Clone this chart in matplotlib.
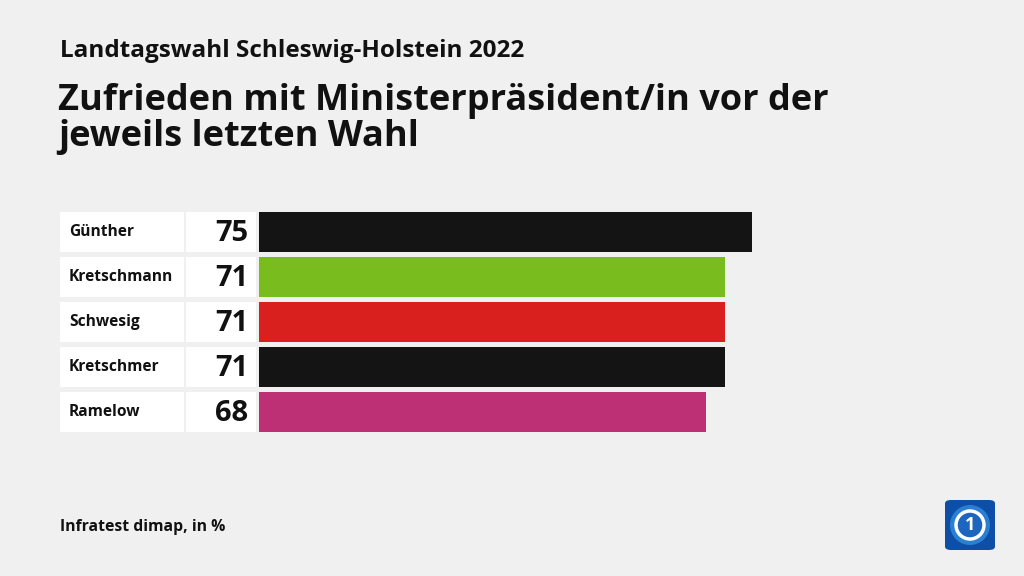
import matplotlib
matplotlib.use("Agg")
import matplotlib.pyplot as plt
from matplotlib.patches import Rectangle, FancyBboxPatch, Ellipse
import matplotlib.transforms as mtransforms

names = ["Günther", "Kretschmann", "Schwesig", "Kretschmer", "Ramelow"]
values = [75, 71, 71, 71, 68]
colors = ["#141414", "#79bc1d", "#d9201f", "#141414", "#be3075"]

subtitle = "Landtagswahl Schleswig-Holstein 2022"
title = "Zufrieden mit Ministerpräsident/in vor der\njeweils letzten Wahl"
source = "Infratest dimap, in %"

W, H = 1024, 576
BG = "#f0f0f0"
FONT = "Open Sans"

fig = plt.figure(figsize=(W / 100, H / 100), dpi=100, facecolor=BG)

def px(x, y):
    return x / W, 1 - y / H

# bar axes: x from 259 to 916 px => 0..100, rows from 209.5 to 434.5 px
ax_left, ax_right = 259, 916
ax_top, ax_bot = 209.5, 434.5
ax = fig.add_axes([ax_left / W, 1 - ax_bot / H, (ax_right - ax_left) / W, (ax_bot - ax_top) / H])
ax.set_facecolor("none")
ax.set_xlim(0, 100)
ax.set_ylim(len(names) - 0.5, -0.5)
ax.axis("off")

ypos = list(range(len(names)))
ax.barh(ypos, values, height=40 / 45, color=colors, left=0)

trans = mtransforms.blended_transform_factory(fig.transFigure, ax.transData)
for i, (n, v) in enumerate(zip(names, values)):
    ax.add_patch(Rectangle((60 / W, i - 20 / 45), 124 / W, 40 / 45, transform=trans,
                           facecolor="white", edgecolor="none", clip_on=False))
    ax.add_patch(Rectangle((186 / W, i - 20 / 45), 70 / W, 40 / 45, transform=trans,
                           facecolor="white", edgecolor="none", clip_on=False))
    ax.text(69 / W, i, n, transform=trans, ha="left", va="center", fontsize=11.2,
            fontweight="bold", family=FONT, color="#111111")
    ax.text(248 / W, i + 0.03, str(v), transform=trans, ha="right", va="center", fontsize=21,
            fontweight="bold", family=FONT, color="#111111")

fig.text(*px(60, 51), subtitle, ha="left", va="center", fontsize=17.5, fontweight="bold",
         family=FONT, color="#111111")
fig.text(*px(58, 119), title, ha="left", va="center", fontsize=26, fontweight="bold",
         family=FONT, color="#111111", linespacing=1.0)
fig.text(*px(60, 527), source, ha="left", va="center", fontsize=11.3, fontweight="bold",
         family=FONT, color="#111111")

# logo
lx, ly, ls = 945, 500, 50
logo = FancyBboxPatch(px(lx, ly + ls), ls / W, ls / H, boxstyle="round,pad=0,rounding_size=0.006",
                      transform=fig.transFigure, facecolor="#0d4fa6", edgecolor="none")
fig.add_artist(logo)
cx, cy = px(lx + ls / 2, ly + ls / 2)
fig.add_artist(Ellipse((cx, cy), 40 / W, 40 / H, transform=fig.transFigure, facecolor="#2a7fd4", edgecolor="none"))
fig.add_artist(Ellipse((cx, cy), 28 / W, 28 / H, transform=fig.transFigure,
                       facecolor="#1c66c0", edgecolor="white", linewidth=2.5))
fig.text(cx, cy, "1", ha="center", va="center", fontsize=13, fontweight="bold", color="white", family=FONT)

fig.savefig("out.png", dpi=100, facecolor=BG)
